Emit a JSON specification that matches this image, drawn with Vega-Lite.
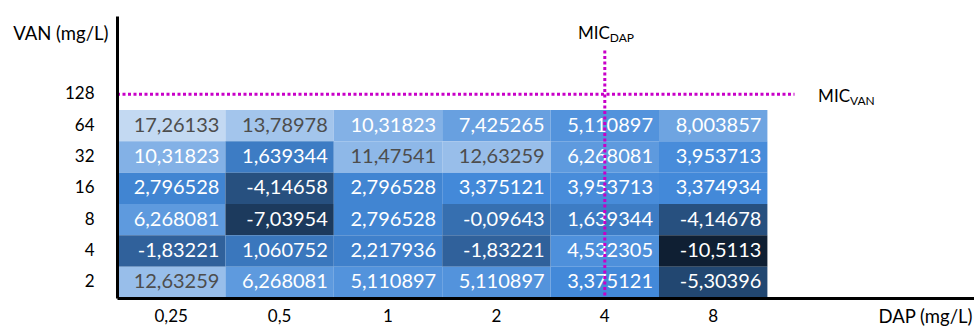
{
  "$schema": "https://vega.github.io/schema/vega-lite/v6.json",
  "width": 857,
  "height": 285,
  "autosize": {"type": "none"},
  "padding": {"left": 117, "top": 13, "right": 0, "bottom": 28},
  "background": "white",
  "config": {
    "view": {"stroke": null},
    "font": "Lato",
    "axis": {
      "labelFont": "Lato",
      "labelColor": "#000000",
      "titleFont": "Lato",
      "titleColor": "#000000",
      "titleFontWeight": "normal",
      "ticks": false,
      "tickSize": 0,
      "grid": false,
      "domainColor": "#000000",
      "domainWidth": 3
    }
  },
  "layer": [
    {
      "data": {
        "values": [
          {"dap": "0,25", "van": "64", "v": 17.26133, "t": "17,26133"},
          {"dap": "0,5", "van": "64", "v": 13.78978, "t": "13,78978"},
          {"dap": "1", "van": "64", "v": 10.31823, "t": "10,31823"},
          {"dap": "2", "van": "64", "v": 7.425265, "t": "7,425265"},
          {"dap": "4", "van": "64", "v": 5.110897, "t": "5,110897"},
          {"dap": "8", "van": "64", "v": 8.003857, "t": "8,003857"},
          {"dap": "0,25", "van": "32", "v": 10.31823, "t": "10,31823"},
          {"dap": "0,5", "van": "32", "v": 1.639344, "t": "1,639344"},
          {"dap": "1", "van": "32", "v": 11.47541, "t": "11,47541"},
          {"dap": "2", "van": "32", "v": 12.63259, "t": "12,63259"},
          {"dap": "4", "van": "32", "v": 6.268081, "t": "6,268081"},
          {"dap": "8", "van": "32", "v": 3.953713, "t": "3,953713"},
          {"dap": "0,25", "van": "16", "v": 2.796528, "t": "2,796528"},
          {"dap": "0,5", "van": "16", "v": -4.14658, "t": "-4,14658"},
          {"dap": "1", "van": "16", "v": 2.796528, "t": "2,796528"},
          {"dap": "2", "van": "16", "v": 3.375121, "t": "3,375121"},
          {"dap": "4", "van": "16", "v": 3.953713, "t": "3,953713"},
          {"dap": "8", "van": "16", "v": 3.374934, "t": "3,374934"},
          {"dap": "0,25", "van": "8", "v": 6.268081, "t": "6,268081"},
          {"dap": "0,5", "van": "8", "v": -7.03954, "t": "-7,03954"},
          {"dap": "1", "van": "8", "v": 2.796528, "t": "2,796528"},
          {"dap": "2", "van": "8", "v": -0.09643, "t": "-0,09643"},
          {"dap": "4", "van": "8", "v": 1.639344, "t": "1,639344"},
          {"dap": "8", "van": "8", "v": -4.14678, "t": "-4,14678"},
          {"dap": "0,25", "van": "4", "v": -1.83221, "t": "-1,83221"},
          {"dap": "0,5", "van": "4", "v": 1.060752, "t": "1,060752"},
          {"dap": "1", "van": "4", "v": 2.217936, "t": "2,217936"},
          {"dap": "2", "van": "4", "v": -1.83221, "t": "-1,83221"},
          {"dap": "4", "van": "4", "v": 4.532305, "t": "4,532305"},
          {"dap": "8", "van": "4", "v": -10.5113, "t": "-10,5113"},
          {"dap": "0,25", "van": "2", "v": 12.63259, "t": "12,63259"},
          {"dap": "0,5", "van": "2", "v": 6.268081, "t": "6,268081"},
          {"dap": "1", "van": "2", "v": 5.110897, "t": "5,110897"},
          {"dap": "2", "van": "2", "v": 5.110897, "t": "5,110897"},
          {"dap": "4", "van": "2", "v": 3.375121, "t": "3,375121"},
          {"dap": "8", "van": "2", "v": -5.30396, "t": "-5,30396"}
        ]
      },
      "layer": [
        {
          "mark": {"type": "rect", "strokeWidth": 0},
          "encoding": {
            "x": {
              "field": "dap", "type": "ordinal",
              "scale": {"domain": ["0,25", "0,5", "1", "2", "4", "8", "p7", "p8"], "range": [0, 867.2], "paddingInner": 0, "paddingOuter": 0},
              "axis": {
                "labelExpr": "datum.value[0] == 'p' ? '' : datum.value",
                "labelFontSize": 17,
                "labelPadding": 10,
                "labelAngle": 0,
                "title": "DAP (mg/L)",
                "titleFontSize": 18.5,
                "titleX": 855,
                "titleY": 18,
                "titleAlign": "right",
                "titleBaseline": "middle"
              }
            },
            "y": {
              "field": "van", "type": "ordinal",
              "scale": {"domain": ["h2", "h1", "128", "64", "32", "16", "8", "4", "2"], "range": [3, 285], "paddingInner": 0, "paddingOuter": 0},
              "axis": {
                "labelExpr": "datum.value[0] == 'h' ? '' : datum.value",
                "labelFontSize": 17,
                "labelPadding": 23,
                "title": "VAN (mg/L)",
                "titleFontSize": 18.5,
                "titleAngle": 0,
                "titleX": -9,
                "titleY": 20,
                "titleAlign": "right",
                "titleBaseline": "middle"
              }
            },
            "color": {
              "field": "v", "type": "quantitative",
              "scale": {"type": "linear", "domain": [-10.5113, 3.375121, 17.26133], "range": ["#0F1F33", "#4389D9", "#C3D9F2"], "interpolate": "rgb"},
              "legend": null
            }
          }
        },
        {
          "mark": {"type": "text", "align": "right", "baseline": "middle", "dx": -6, "fontSize": 20, "font": "Lato"},
          "encoding": {
            "x": {"field": "dap", "type": "ordinal", "bandPosition": 1},
            "y": {"field": "van", "type": "ordinal", "bandPosition": 0.5},
            "text": {"field": "t"},
            "color": {"condition": {"test": "datum.v > 11", "value": "#4D4D4D"}, "value": "#FFFFFF"}
          }
        }
      ]
    },
    {
      "data": {"values": [{"dap": "0,25", "dap2": "p7", "van": "128"}]},
      "mark": {"type": "rule", "color": "#C800C8", "strokeWidth": 3, "strokeDash": [3, 2.5]},
      "encoding": {
        "x": {"field": "dap", "type": "ordinal", "bandPosition": 0},
        "x2": {"field": "dap2", "bandPosition": 0.25},
        "y": {"field": "van", "type": "ordinal", "bandPosition": 0.5}
      }
    },
    {
      "data": {"values": [{"dap": "4", "van": "h1", "van2": "2"}]},
      "mark": {"type": "rule", "color": "#C800C8", "strokeWidth": 3, "strokeDash": [3, 2.5]},
      "encoding": {
        "x": {"field": "dap", "type": "ordinal", "bandPosition": 0.5},
        "y": {"field": "van", "type": "ordinal", "bandPosition": 0.1},
        "y2": {"field": "van2", "bandPosition": 1}
      }
    },
    {
      "data": {"values": [{"dap": "4", "van": "h2", "main": "MIC", "sub": "DAP"}, {"dap": "p7", "van": "128", "main": "MIC", "sub": "VAN"}]},
      "layer": [
        {
          "mark": {"type": "text", "align": "right", "baseline": "alphabetic", "fontSize": 17, "font": "Lato", "color": "#000000", "dx": 5, "dy": 7.5},
          "encoding": {
            "x": {"field": "dap", "type": "ordinal", "bandPosition": 0.5},
            "y": {"field": "van", "type": "ordinal", "bandPosition": 0.5},
            "text": {"field": "main"}
          },
          "transform": [{"filter": "datum.sub == 'DAP'"}]
        },
        {
          "mark": {"type": "text", "align": "left", "baseline": "alphabetic", "fontSize": 12, "font": "Lato", "color": "#000000", "dx": 5, "dy": 10},
          "encoding": {
            "x": {"field": "dap", "type": "ordinal", "bandPosition": 0.5},
            "y": {"field": "van", "type": "ordinal", "bandPosition": 0.5},
            "text": {"field": "sub"}
          },
          "transform": [{"filter": "datum.sub == 'DAP'"}]
        },
        {
          "mark": {"type": "text", "align": "right", "baseline": "alphabetic", "fontSize": 17, "font": "Lato", "color": "#000000", "dx": 28.4, "dy": 7.7},
          "encoding": {
            "x": {"field": "dap", "type": "ordinal", "bandPosition": 0.5},
            "y": {"field": "van", "type": "ordinal", "bandPosition": 0.5},
            "text": {"field": "main"}
          },
          "transform": [{"filter": "datum.sub == 'VAN'"}]
        },
        {
          "mark": {"type": "text", "align": "left", "baseline": "alphabetic", "fontSize": 12, "font": "Lato", "color": "#000000", "dx": 28.4, "dy": 10.7},
          "encoding": {
            "x": {"field": "dap", "type": "ordinal", "bandPosition": 0.5},
            "y": {"field": "van", "type": "ordinal", "bandPosition": 0.5},
            "text": {"field": "sub"}
          },
          "transform": [{"filter": "datum.sub == 'VAN'"}]
        }
      ]
    }
  ]
}
